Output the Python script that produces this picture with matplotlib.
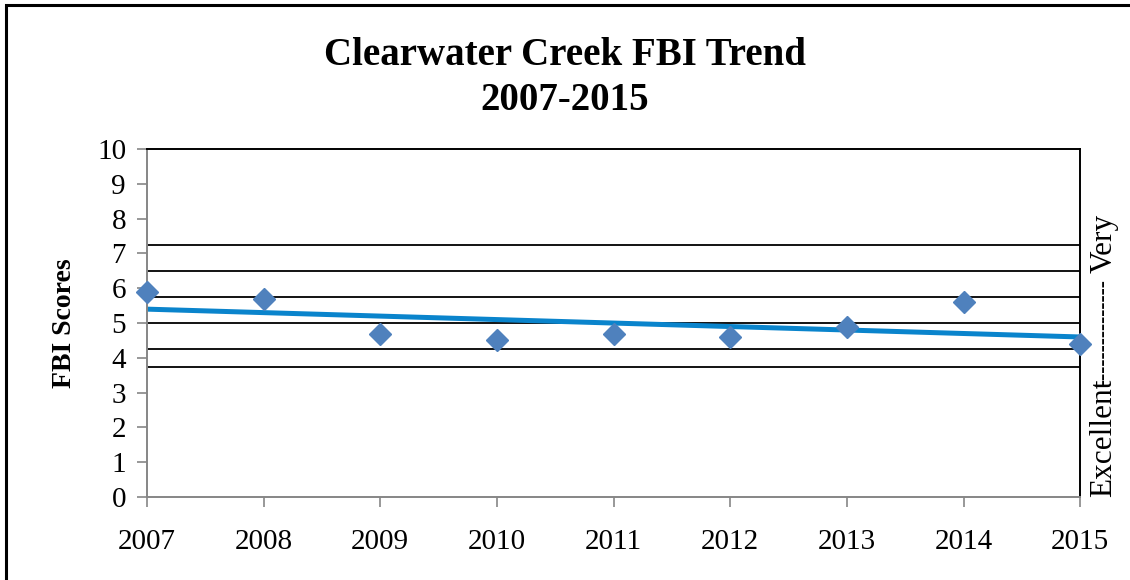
import matplotlib
matplotlib.use("Agg")
import matplotlib.pyplot as plt
from matplotlib.patches import Rectangle

# FBI scores by year
years = [2007, 2008, 2009, 2010, 2011, 2012, 2013, 2014, 2015]
scores = [5.9, 5.7, 4.7, 4.5, 4.7, 4.6, 4.9, 5.6, 4.4]

# trendline ends (2007 and 2015)
trend_years = [2007, 2015]
trend_vals = [5.4, 4.6]

# rating band boundaries
bands = [3.75, 4.25, 5.0, 5.75, 6.5, 7.25]

plt.rcParams["font.family"] = ["Liberation Serif", "DejaVu Serif"]

W, H = 1130, 580
fig = plt.figure(figsize=(W / 100, H / 100), dpi=100)
ax = fig.add_axes([0.130, 0.143, 0.826, 0.600])

# outer chart frame
fig.patches.append(Rectangle((6 / W, -0.05), 1.1, 1.05 - 5 / H, transform=fig.transFigure,
                             fill=False, edgecolor="black", linewidth=2.2, zorder=0))

for b in bands:
    ax.axhline(b, color="black", linewidth=1.3, zorder=1)

ax.plot(trend_years, trend_vals, color="#0A84CC", linewidth=3.6, zorder=2, solid_capstyle="butt")
ax.plot(years, scores, linestyle="none", marker="D", markersize=11.5, color="#4F81BD",
        zorder=3, clip_on=False)

ax.set_xlim(2007, 2015)
ax.set_ylim(0, 10)
ax.set_xticks(years)
ax.set_yticks(range(0, 11))
ax.tick_params(axis="both", labelsize=21, color="#868686", length=7, width=1.2)
ax.tick_params(axis="x", pad=16)
ax.tick_params(axis="y", pad=8)

ax.spines["left"].set_color("#868686")
ax.spines["bottom"].set_color("#868686")
ax.spines["left"].set_linewidth(1.4)
ax.spines["bottom"].set_linewidth(1.4)
ax.spines["top"].set_color("black")
ax.spines["right"].set_color("black")
ax.spines["top"].set_linewidth(1.4)
ax.spines["right"].set_linewidth(1.4)

ax.set_ylabel("FBI Scores", fontsize=20, fontweight="bold", labelpad=14)

fig.text(0.5, 0.865, "Clearwater Creek FBI Trend\n2007-2015", ha="center", va="center",
         fontsize=28, fontweight="bold", linespacing=1.3)

# side scale note, written bottom to top; the dash run is set smaller
fig.text(1104 / W, 1 - 497 / H, "Excellent", rotation=90, ha="center", va="bottom", fontsize=22.5)
fig.text(1104 / W, 1 - 386 / H, "---------------", rotation=90, ha="center", va="bottom",
         fontsize=15.5)
fig.text(1104 / W, 1 - 273 / H, "Very", rotation=90, ha="center", va="bottom", fontsize=22.5)

fig.savefig("out.png", dpi=100)
